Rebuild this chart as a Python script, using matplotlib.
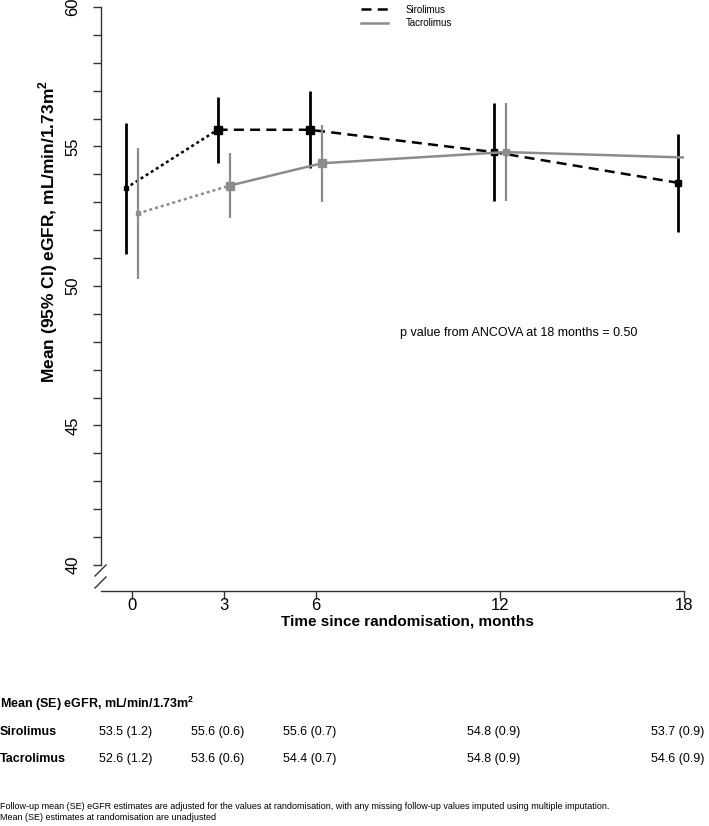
import numpy as np
import matplotlib
matplotlib.use("Agg")
import matplotlib.pyplot as plt
import matplotlib.transforms as mtransforms

plt.rcParams['font.family'] = ['Liberation Sans', 'DejaVu Sans']
plt.rcParams['mathtext.fontset'] = 'custom'
plt.rcParams['mathtext.rm'] = 'Liberation Sans'
plt.rcParams['mathtext.bf'] = 'Liberation Sans:bold'

# data
months = [0, 3, 6, 12, 18]
groups = ['Sirolimus', 'Tacrolimus']
siro_mean = [53.5, 55.6, 55.6, 54.8, 53.7]
siro_se = [1.2, 0.6, 0.7, 0.9, 0.9]
tacro_mean = [52.6, 53.6, 54.4, 54.8, 54.6]
tacro_se = [1.2, 0.6, 0.7, 0.9, 0.9]
p_text = 'p value from ANCOVA at 18 months = 0.50'
footnote = ('Follow-up mean (SE) eGFR estimates are adjusted for the values at randomisation, '
            'with any missing follow-up values imputed using multiple imputation.\n'
            'Mean (SE) estimates at randomisation are unadjusted')

W, H = 709, 826
fig = plt.figure(figsize=(W / 100, H / 100), dpi=100)


def fx(px):
    return px / W


def fy(py):
    return 1 - py / H


ax = fig.add_axes([fx(101), fy(591), fx(684 - 101), fy(7) - fy(591)])
ax.set_xlim(-1, 18)
ax.set_ylim(40 - 26 / 27.9, 60)

grey = '#8c8c8c'
styles = [
    dict(mean=siro_mean, se=siro_se, shift=-0.2, color='black', ls=(0, (4, 2.5)), elw=2.0),
    dict(mean=tacro_mean, se=tacro_se, shift=0.2, color=grey, ls='-', elw=1.6),
]
msizes = [3, 6, 5.2, 4.4, 4.4]

for s in styles:
    x = np.array(months) + s['shift']
    m = np.array(s['mean'])
    ci = 1.96 * np.array(s['se'])
    # randomisation to 3 months dotted, follow-up dashed/solid
    ax.plot(x[:2], m[:2], color=s['color'], lw=1.8, ls=(0, (1.2, 1.2)))
    ax.plot(x[1:], m[1:], color=s['color'], lw=1.8, ls=s['ls'])
    ax.vlines(x, m - ci, m + ci, color=s['color'], lw=s['elw'])
    for xi, mi, ms in zip(x, m, msizes):
        ax.plot(xi, mi, marker='s', ms=ms, color=s['color'], mec=s['color'])

# axes styling (R-like)
for side in ['top', 'right']:
    ax.spines[side].set_visible(False)
ax.spines['left'].set_bounds(40, 60)
ax.spines['bottom'].set_bounds(-1, 18)
for side in ['left', 'bottom']:
    ax.spines[side].set_color('#333333')
    ax.spines[side].set_linewidth(1.0)
ax.set_xticks(months)
ax.set_xticklabels([str(m) for m in months])
ax.set_yticks(range(40, 61))
ax.set_yticklabels([str(v) if v % 5 == 0 else '' for v in range(40, 61)],
                   rotation=90, va='center')
ax.tick_params(axis='both', direction='out', length=5.7, width=1.0, color='#333333',
               labelsize=12)
ax.tick_params(axis='x', pad=-0.5)
ax.tick_params(axis='y', pad=9)
for lab in ax.get_xticklabels() + ax.get_yticklabels():
    lab.set_fontfamily(['Liberation Sans Narrow', 'Liberation Sans'])

# axis break marks
for dy in [0, 12]:
    fig.add_artist(plt.Line2D([fx(95), fx(106)], [fy(576 + dy), fy(565 + dy)],
                              color='#333333', lw=1.0))

xl_tr = mtransforms.blended_transform_factory(ax.transData, fig.transFigure)
ax.text(9, fy(626), 'Time since randomisation, months', transform=xl_tr,
        ha='center', va='baseline', fontsize=11, fontweight='bold')
fig.text(fx(48), fy(232), r'Mean (95% CI) eGFR, mL/min/1.73m$^\mathbf{2}$', rotation=90,
         ha='center', va='center', fontsize=12.5, fontweight='bold')

ax.text(12.6, 48.3, p_text, ha='center', va='center', fontsize=9)

# legend
leg_lines = [plt.Line2D([], [], color='black', lw=1.8, ls=(0, (4, 2.5))),
             plt.Line2D([], [], color=grey, lw=1.8, ls='-')]
fig.legend(leg_lines, groups, loc='upper left', bbox_to_anchor=(fx(352), fy(-4)),
           frameon=False, fontsize=7, handlelength=2.8, handletextpad=1.8,
           labelspacing=0.35)

# summary table
tr = mtransforms.blended_transform_factory(ax.transData, fig.transFigure)
fig.text(0.0, fy(708), r'Mean (SE) eGFR, mL/min/1.73m$^\mathbf{2}$', ha='left', va='baseline',
         fontsize=9, fontweight='bold')
for g, mean, se, py in [(groups[0], siro_mean, siro_se, 735), (groups[1], tacro_mean, tacro_se, 762)]:
    fig.text(0.0, fy(py), g, ha='left', va='baseline', fontsize=9, fontweight='bold')
    for t, m, e in zip(months, mean, se):
        ax.text(t - 0.2, fy(py), f'{m:.1f} ({e:.1f})', transform=tr, ha='center', va='baseline',
                fontsize=9)

fig.text(0.0, fy(812), footnote, ha='left', va='center', fontsize=6.5, linespacing=1.4)

fig.savefig('out.png', dpi=100)
